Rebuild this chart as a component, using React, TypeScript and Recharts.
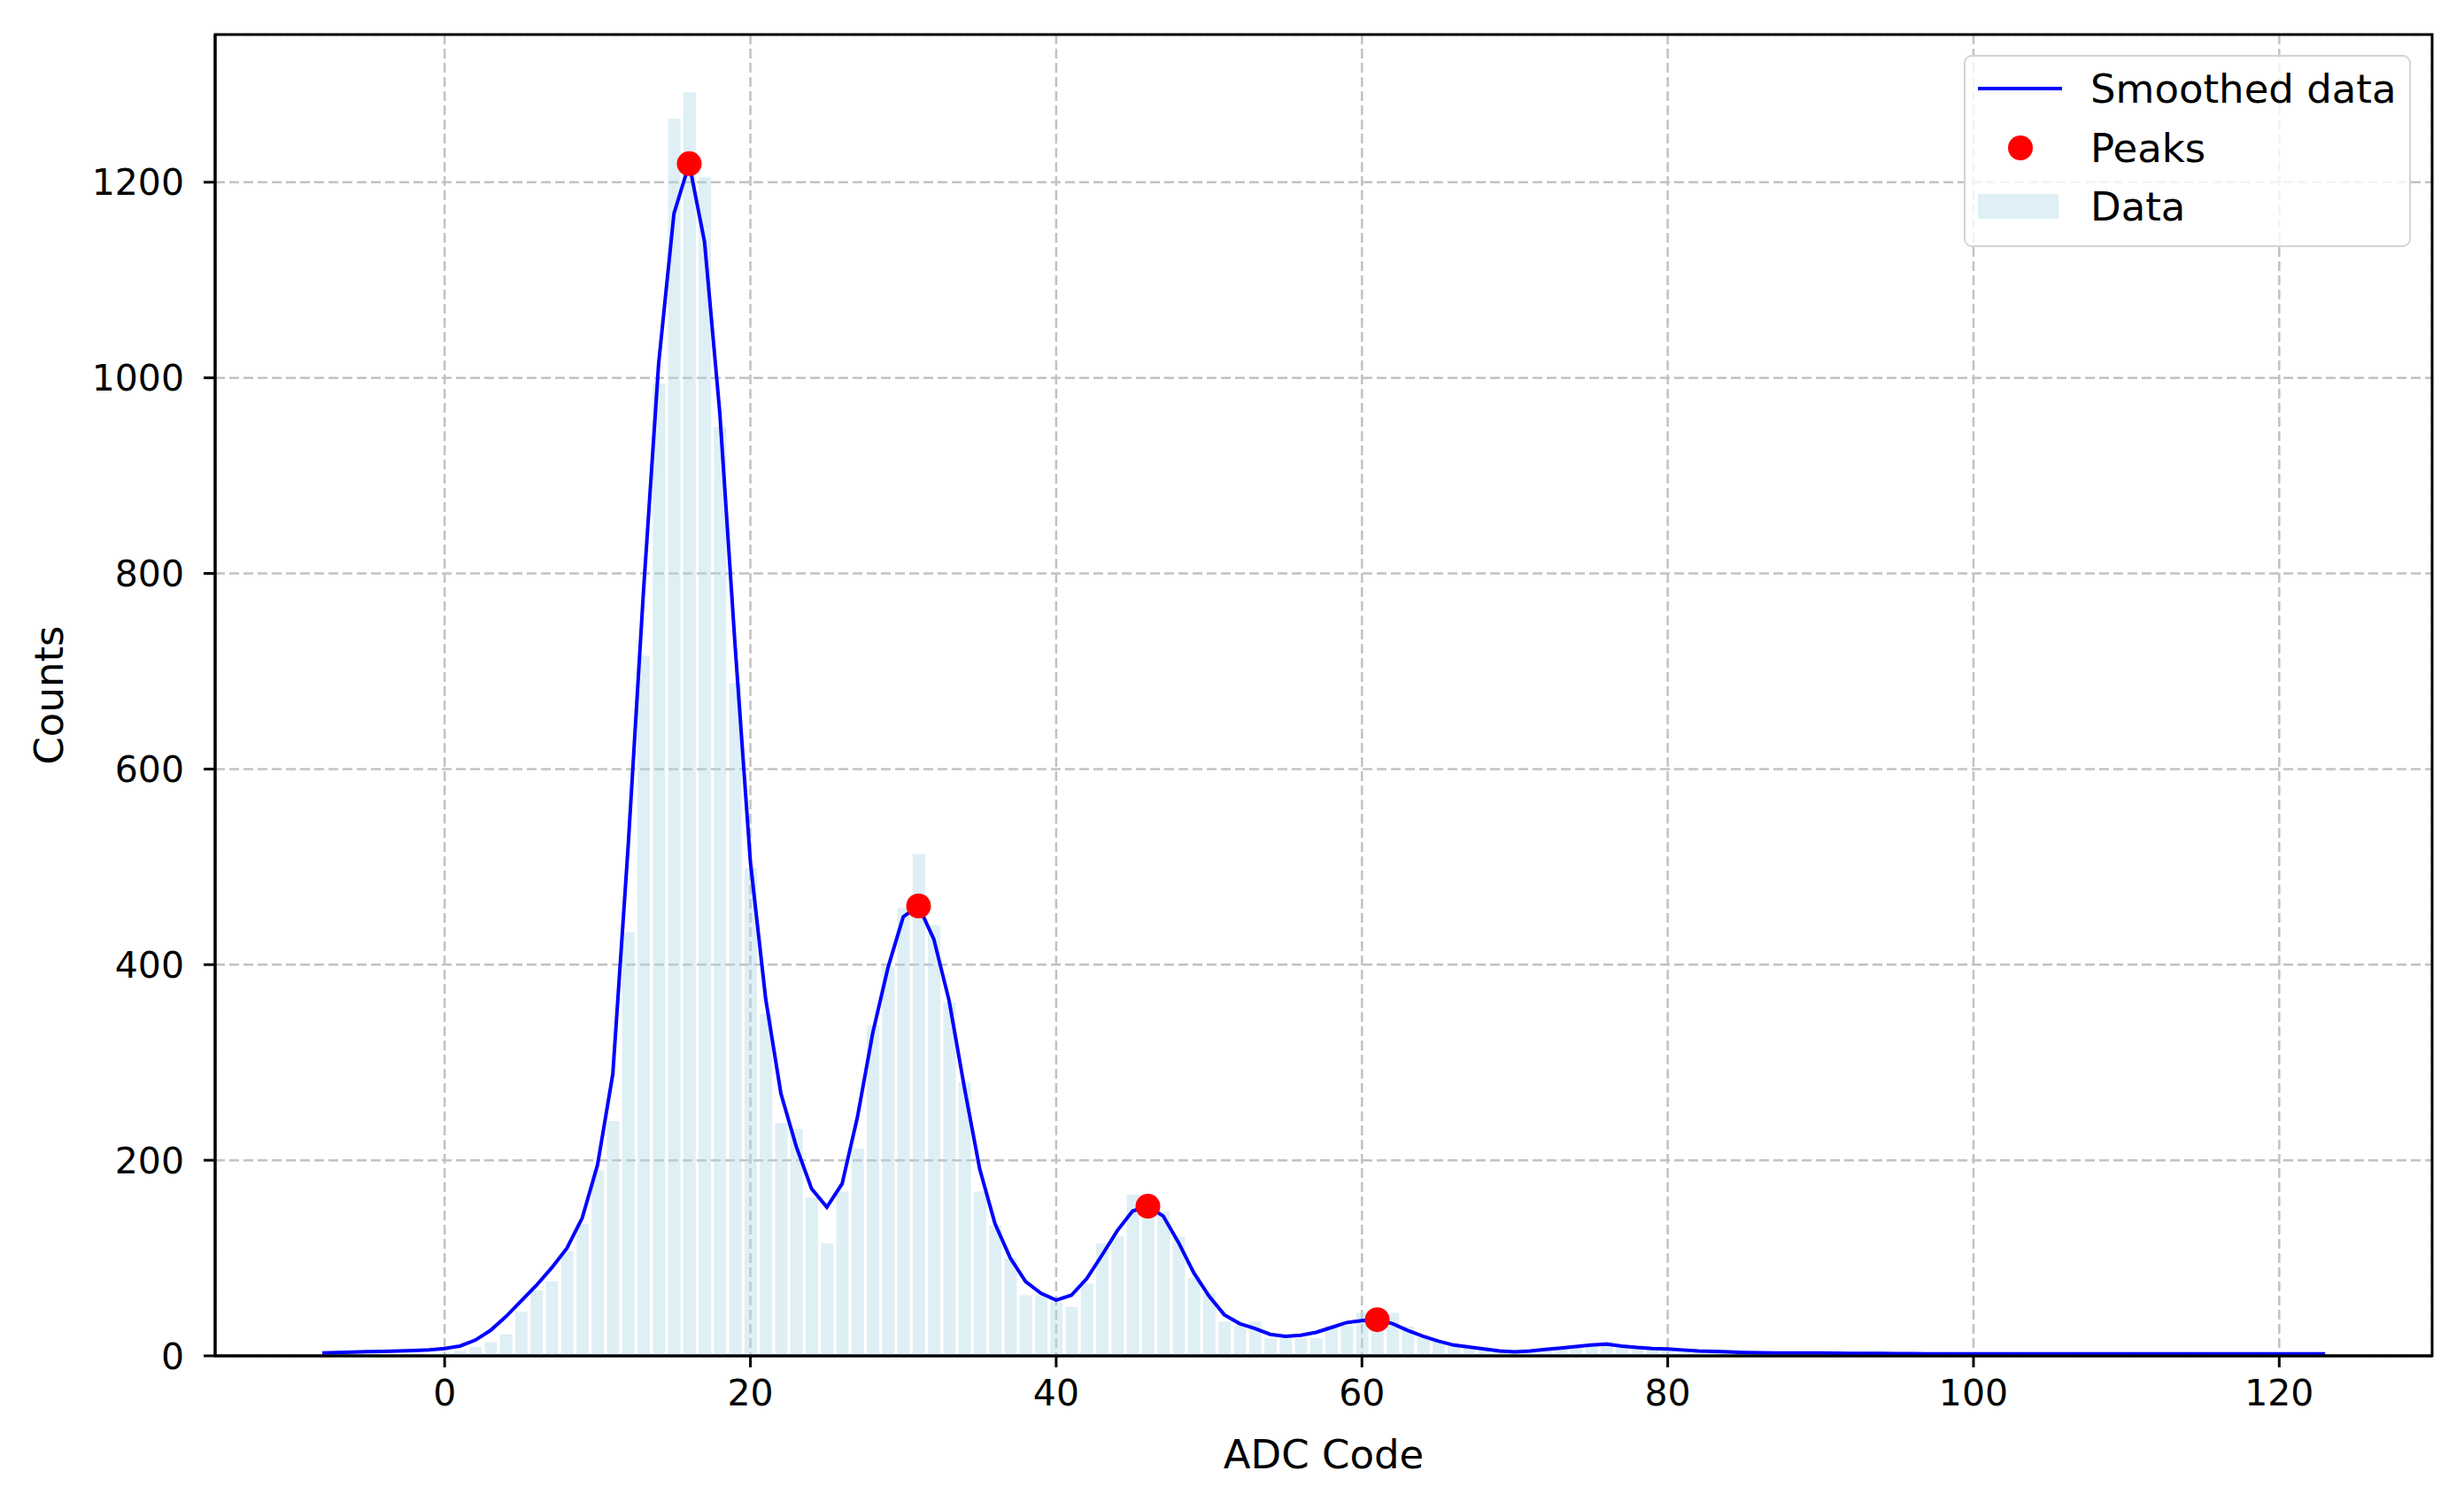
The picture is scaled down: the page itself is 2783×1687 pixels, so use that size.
import {
  ComposedChart, Bar, Line, Scatter, XAxis, YAxis,
  CartesianGrid, Legend, ReferenceArea,
} from "recharts";

const FONT = "DejaVu Sans";

// histogram bins, one per ADC code starting at FIRST_CODE
const FIRST_CODE = -8;

const histCounts = [
  0, 0, 0, 0, 1, 1, 1, 2,
  3, 5, 9, 14, 22, 45, 67, 76, 107, 135,
  190, 240, 433, 716, 994, 1265, 1292, 1205, 950, 688,
  499, 350, 238, 232, 162, 115, 168, 212, 338, 398,
  458, 513, 440, 361, 280, 168, 133, 100, 62, 62,
  55, 50, 74, 115, 122, 165, 160, 148, 122, 80,
  64, 35, 31, 35, 18, 18, 18, 18, 31, 31,
  44, 44, 44, 30, 19, 15, 10, 8, 6, 4,
  3, 4, 6, 8, 10, 12, 15, 11, 9, 7,
  7, 6, 5, 4, 3, 3, 2, 3, 4, 4,
  3, 3, 2, 1, 1, 0, 1, 0, 0, 1,
  0, 0, 1, 0, 0, 0, 0, 1, 0, 0,
  0, 0, 0, 1, 0, 0, 0, 0, 0, 0,
  0, 0, 1, 0,
];

const smoothed = [
  3, 3.4, 3.8, 4.2, 4.6, 5, 5.5, 6.2,
  7.5, 10, 16, 26, 40, 56, 72, 90, 110, 141,
  195, 288, 520, 780, 1015, 1168, 1219, 1139, 964, 726,
  505, 365, 268, 214, 171, 152, 176, 244, 330, 397,
  449, 460, 426, 363, 274, 191, 135, 100, 76, 64,
  57, 62, 79, 103, 128, 148, 153, 143, 116, 85,
  61, 42, 33, 28, 22, 20, 21, 24, 29, 34,
  36, 37, 33, 26, 20, 15, 11, 9, 7, 5,
  4, 5, 6.5, 8, 9.5, 11, 12, 10, 8.5, 7.5,
  7, 6, 5, 4.5, 4, 3.5, 3.2, 3, 3, 3,
  3, 2.8, 2.6, 2.5, 2.4, 2.3, 2.2, 2.1, 2, 2,
  2, 2, 2, 2, 2, 2, 2, 2, 2, 2,
  2, 2, 2, 2, 2, 2, 2, 2, 2, 2,
  2, 2, 2, 2,
];

const peakCodes = [16, 31, 46, 61];
const peakCounts = [1219, 460, 153, 37];

const xTicks = [0, 20, 40, 60, 80, 100, 120];
const yTicks = [0, 200, 400, 600, 800, 1000, 1200];

const X_DOMAIN: [number, number] = [-15.01, 130];
const Y_DOMAIN: [number, number] = [0, 1351];

const data = histCounts.map((count, i) => ({
  code: FIRST_CODE + i,
  count,
  smooth: smoothed[i],
}));
const peaks = peakCodes.map((code, i) => ({ code, smooth: peakCounts[i] }));

const tickStyle = { fontSize: 41, fontFamily: FONT, fill: "#000" };
const labelStyle = { fontSize: 45, fontFamily: FONT, fill: "#000", textAnchor: "middle" as const };

function PeakDot(props: any) {
  const { cx, cy } = props;
  if (cx == null || cy == null) return null;
  return <circle cx={cx} cy={cy} r={14} fill="#ff0000" />;
}

function LegendBox() {
  return (
    <div
      style={{
        width: 505, height: 217, boxSizing: "border-box",
        border: "2.5px solid #d4d4d4", borderRadius: 9,
        background: "rgba(255,255,255,0.8)",
      }}
    >
      <svg width={500} height={212} style={{ display: "block" }}>
        <line x1={14} x2={109} y1={36} y2={36} stroke="#0000ff" strokeWidth={4} />
        <circle cx={62} cy={103} r={14} fill="#ff0000" />
        <rect x={14} y={155} width={91} height={28} fill="#add8e6" fillOpacity={0.4} />
        <text x={141} y={52} fontSize={45} fontFamily={FONT} fill="#000">Smoothed data</text>
        <text x={141} y={119} fontSize={45} fontFamily={FONT} fill="#000">Peaks</text>
        <text x={141} y={185} fontSize={45} fontFamily={FONT} fill="#000">Data</text>
      </svg>
    </div>
  );
}

export default function App() {
  return (
    <div>
      <style>{"body{margin:0}"}</style>
      <ComposedChart
        width={2783}
        height={1687}
        data={data}
        margin={{ top: 39, right: 36, left: 0, bottom: 0 }}
      >
        <CartesianGrid
          stroke="#c2c2c2" strokeWidth={2.5} strokeDasharray="11 5"
        />
        <Bar
          dataKey="count" name="Data" fill="#add8e6" fillOpacity={0.4}
          barSize={14} isAnimationActive={false}
        />
        <Line
          type="linear" dataKey="smooth" name="Smoothed data"
          stroke="#0000ff" strokeWidth={4} dot={false} activeDot={false}
          isAnimationActive={false}
        />
        <Scatter
          data={peaks} dataKey="smooth" name="Peaks"
          shape={<PeakDot />} isAnimationActive={false}
        />
        <XAxis
          dataKey="code" type="number" domain={X_DOMAIN} allowDataOverflow
          ticks={xTicks} height={156} interval={0}
          tick={tickStyle} tickSize={13} tickMargin={14}
          tickLine={{ stroke: "#000", strokeWidth: 3 }}
          axisLine={{ stroke: "#000", strokeWidth: 3 }}
          label={{ value: "ADC Code", position: "insideBottom", offset: 29, style: labelStyle }}
        />
        <YAxis
          type="number" domain={Y_DOMAIN} allowDataOverflow
          ticks={yTicks} width={243} interval={0}
          tick={tickStyle} tickSize={13} tickMargin={22}
          tickLine={{ stroke: "#000", strokeWidth: 3 }}
          axisLine={{ stroke: "#000", strokeWidth: 3 }}
          label={{ value: "Counts", angle: -90, position: "insideLeft", offset: 55, style: labelStyle }}
        />
        {/* axes frame, like matplotlib's spines */}
        <ReferenceArea
          x1={X_DOMAIN[0]} x2={X_DOMAIN[1]} y1={Y_DOMAIN[0]} y2={Y_DOMAIN[1]}
          fill="none" stroke="#000" strokeWidth={3} ifOverflow="visible"
        />
        <Legend
          layout="vertical" align="center" verticalAlign="middle"
          content={<LegendBox />}
          wrapperStyle={{ left: 2218, top: 62, width: 505, height: 217 }}
        />
      </ComposedChart>
    </div>
  );
}
